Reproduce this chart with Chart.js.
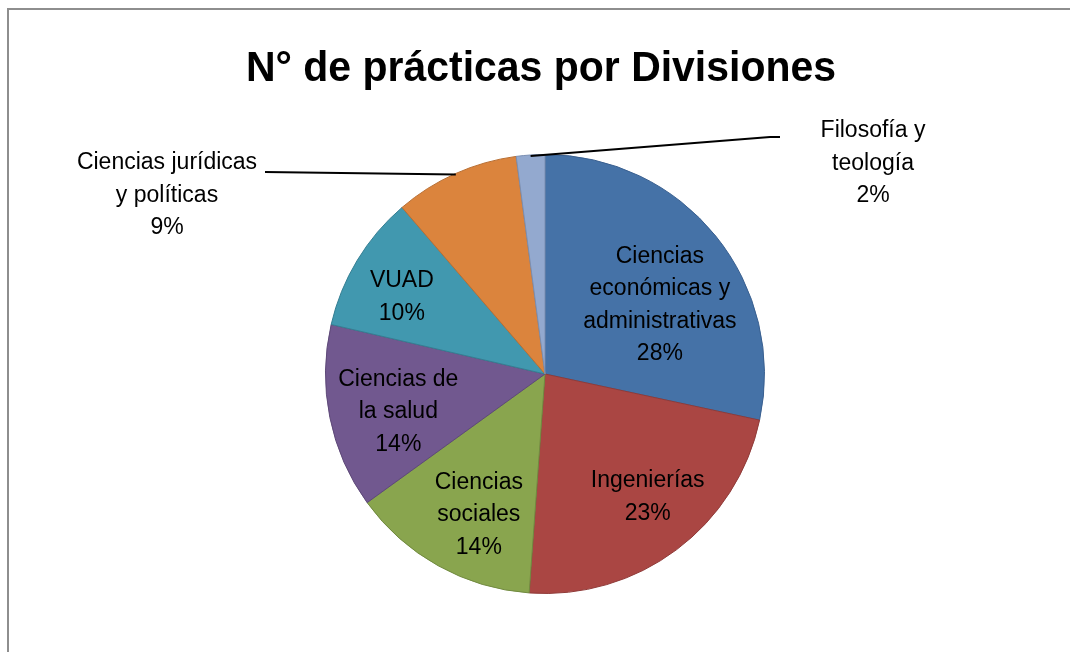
<!DOCTYPE html>
<html>
<head>
<meta charset="utf-8">
<script src="https://cdn.jsdelivr.net/npm/chart.js@4"></script>
<style>
  body { margin: 0; background: #fff; }
  canvas { display: block; }
</style>
</head>
<body>
<canvas id="pieChart" width="1070" height="652"></canvas>
<script>
// datos del gráfico
const titleText = 'N° de prácticas por Divisiones';
const categories = [
  ['Ciencias', 'económicas y', 'administrativas'],
  ['Ingenierías'],
  ['Ciencias', 'sociales'],
  ['Ciencias de', 'la salud'],
  ['VUAD'],
  ['Ciencias jurídicas', 'y políticas'],
  ['Filosofía y', 'teología']
];
const values = [28.4, 22.8, 13.9, 13.6, 10.1, 9.2, 2.1];
const colors = ['#4572A7', '#AA4643', '#89A54E', '#71588F', '#4198AF', '#DB843D', '#93A9CF'];
const borders = ['#3A6090', '#903B39', '#718A40', '#5E4978', '#357F93', '#B96F33', '#7A8FB3'];

const total = values.reduce((s, v) => s + v, 0);
const pct = v => Math.round(v / total * 100) + '%';

const FONT = '23px "Liberation Sans", Arial, sans-serif';
const LINE_H = 32.5;

// posición de etiquetas dentro de la porción: [fracción del radio, giro en grados]
const insidePos = [[0.61, 8], [0.73, -3], [0.71, -4], [0.69, -3], [0.74, -3]];

function drawLines(ctx, lines, x, y) {
  lines.forEach((t, i) => ctx.fillText(t, x, y + i * LINE_H));
}

const labelPlugin = {
  id: 'labelPlugin',
  beforeDraw(chart) {
    const ctx = chart.ctx;
    ctx.save();
    ctx.fillStyle = '#fff';
    ctx.fillRect(0, 0, chart.width, chart.height);
    // marco
    ctx.strokeStyle = '#8e8e8e';
    ctx.lineWidth = 2;
    ctx.beginPath();
    ctx.moveTo(8, chart.height);
    ctx.lineTo(8, 9);
    ctx.lineTo(chart.width, 9);
    ctx.stroke();
    // título
    ctx.fillStyle = '#000';
    ctx.font = 'bold 42px "Liberation Sans", Arial, sans-serif';
    ctx.textAlign = 'center';
    ctx.textBaseline = 'alphabetic';
    ctx.fillText(titleText, 541, 81, 590);
    ctx.restore();
  },
  afterDatasetsDraw(chart) {
    const ctx = chart.ctx;
    const arcs = chart.getDatasetMeta(0).data;
    ctx.save();
    ctx.font = FONT;
    ctx.fillStyle = '#000';
    ctx.textAlign = 'center';
    ctx.textBaseline = 'middle';

    arcs.forEach((arc, i) => {
      const p = arc.getProps(['x', 'y', 'startAngle', 'endAngle', 'outerRadius'], true);
      const mid = (p.startAngle + p.endAngle) / 2;
      const lines = categories[i].concat([pct(values[i])]);
      if (i < insidePos.length) {
        const [f, shift] = insidePos[i];
        const a = mid + shift * Math.PI / 180;
        const cx = p.x + Math.cos(a) * p.outerRadius * f;
        const cy = p.y + Math.sin(a) * p.outerRadius * f;
        drawLines(ctx, lines, cx, cy - (lines.length - 1) * LINE_H / 2);
      } else {
        // etiqueta externa con línea guía
        const ex = p.x + Math.cos(mid) * (p.outerRadius - 1);
        const ey = p.y + Math.sin(mid) * (p.outerRadius - 1);
        ctx.strokeStyle = '#000';
        ctx.lineWidth = 2;
        ctx.beginPath();
        ctx.moveTo(ex, ey);
        if (i === 6) {
          ctx.lineTo(p.x + 225, p.y - 237);
          ctx.lineTo(p.x + 235, p.y - 237);
          ctx.stroke();
          drawLines(ctx, lines, p.x + 328, p.y - 243);
        } else {
          ctx.lineTo(p.x - 280, p.y - 202);
          ctx.stroke();
          drawLines(ctx, lines, p.x - 378, p.y - 211);
        }
      }
    });
    ctx.restore();
  }
};

new Chart(document.getElementById('pieChart'), {
  type: 'pie',
  data: {
    labels: categories,
    datasets: [{
      data: values,
      backgroundColor: colors,
      borderColor: borders,
      borderWidth: 1
    }]
  },
  options: {
    responsive: false,
    animation: false,
    layout: { padding: { left: 325, right: 305, top: 154, bottom: 58 } },
    plugins: {
      legend: { display: false },
      tooltip: { enabled: false },
      title: { display: false }
    }
  },
  plugins: [labelPlugin]
});
</script>
</body>
</html>
